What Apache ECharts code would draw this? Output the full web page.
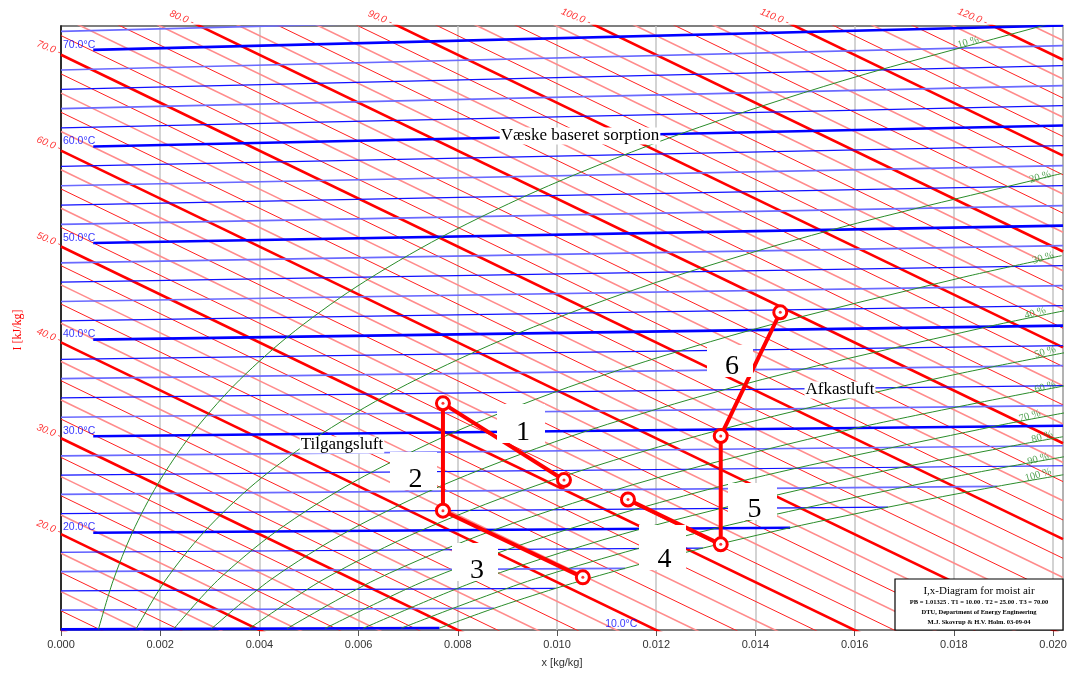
<!DOCTYPE html>
<html>
<head>
<meta charset="utf-8">
<title>I,x-Diagram for moist air</title>
<script src="https://cdn.jsdelivr.net/npm/echarts@6/dist/echarts.min.js"></script>
<style>
html, body { margin: 0; padding: 0; background: #fff; }
#chart { width: 1071px; height: 675px; }
</style>
</head>
<body>
<div id="chart"></div>
<script>
// Mollier chart: horizontal = x [kg/kg], vertical = I - r0*x (skewed enthalpy axis)
const R0 = 2501
const CPA = 1.006
const CPV = 1.86
const X_MAX = 0.0202
const V_MIN = 10
const V_MAX = 73

// isenthalps kJ/kg
const enthalpyLevels = [10, 12, 14, 16, 18, 20, 22, 24, 26, 28, 30, 32, 34, 36, 38, 40, 42, 44, 46, 48,
  50, 52, 54, 56, 58, 60, 62, 64, 66, 68, 70, 72, 74, 76, 78, 80, 82, 84, 86, 88, 90, 92, 94, 96, 98,
  100, 102, 104, 106, 108, 110, 112, 114, 116, 118, 120, 122]
const enthalpyLabels = [20, 30, 40, 50, 60, 70, 80, 90, 100, 110, 120]

// isotherms degC, and where the first ones meet the saturation curve
const tempLevels = [10, 12, 14, 16, 18, 20, 22, 24, 26, 28, 30, 32, 34, 36, 38, 40, 42, 44, 46, 48,
  50, 52, 54, 56, 58, 60, 62, 64, 66, 68, 70, 72]
const tempEndX = [0.00763, 0.00873, 0.00997, 0.01137, 0.01294, 0.0147, 0.01667, 0.01888]
const tempLabels = [20, 30, 40, 50, 60, 70]

// relative humidity curves, [t degC, x kg/kg]
const rhLevels = [10, 20, 30, 40, 50, 60, 70, 80, 90, 100]
const rh10 = [[10, 0.000755], [15, 0.001049], [20, 0.001439], [25, 0.001952], [30, 0.002618], [35, 0.003475], [40, 0.004567], [45, 0.005946], [50, 0.007676], [55, 0.009829], [60, 0.012491], [65, 0.015762], [70, 0.019763], [70.5, 0.020199]]
const rh20 = [[10, 0.001512], [15, 0.002101], [20, 0.002885], [25, 0.003916], [30, 0.005258], [35, 0.006989], [40, 0.009201], [45, 0.012008], [50, 0.015544], [55, 0.019974], [55.2, 0.020167]]
const rh30 = [[10, 0.00227], [15, 0.003157], [20, 0.004338], [25, 0.005893], [30, 0.007921], [35, 0.010542], [40, 0.013904], [45, 0.018187], [47, 0.020173]]
const rh40 = [[10, 0.003031], [15, 0.004217], [20, 0.005797], [25, 0.007882], [30, 0.010606], [35, 0.014136], [40, 0.018678], [41.5, 0.020237]]
const rh50 = [[10, 0.003793], [15, 0.00528], [20, 0.007264], [25, 0.009884], [30, 0.013315], [35, 0.017771], [37.3, 0.020239]]
const rh60 = [[10, 0.004557], [15, 0.006347], [20, 0.008737], [25, 0.011899], [30, 0.016046], [34, 0.020248]]
const rh70 = [[10, 0.005323], [15, 0.007417], [20, 0.010217], [25, 0.013926], [30, 0.018801], [31.3, 0.02025]]
const rh80 = [[10, 0.006091], [15, 0.008491], [20, 0.011704], [25, 0.015967], [28, 0.019145], [28.9, 0.0202]]
const rh90 = [[10, 0.00686], [15, 0.009569], [20, 0.013198], [25, 0.018021], [26.9, 0.020228]]
const rh100 = [[10, 0.007632], [12, 0.008732], [14, 0.009972], [16, 0.011369], [18, 0.012938], [20, 0.014699], [22, 0.016672], [24, 0.01888], [25.1, 0.020206]]
const rhCurves = [rh10, rh20, rh30, rh40, rh50, rh60, rh70, rh80, rh90, rh100]

// process states (x kg/kg, I kJ/kg)
const supplyX = [0.01014, 0.0077, 0.0077, 0.01052]
const supplyI = [51.0, 52.9, 41.7, 41.8]
const exhaustX = [0.01143, 0.0133, 0.0133, 0.0145]
const exhaustI = [52.2, 52.2, 63.5, 79.4]

const vFromI = (x, I) => I - R0 * x
const vFromT = (x, t) => t * (CPA + CPV * x)

const RED = '#ff0000'
const BLUE = '#0000ff'
const GREEN = '#2a8c2a'
const base = { type: 'line', silent: true, symbol: 'none', animation: false }
const series = []

enthalpyLevels.forEach(I => {
  const thick = I % 10 === 0
  const light = !thick && (I / 2) % 2 === 1
  series.push(Object.assign({}, base, {
    z: 2,
    lineStyle: { color: thick ? RED : light ? '#ff8c8c' : '#ff2020', width: thick ? 2.6 : light ? 1.6 : 1 },
    data: [[0, vFromI(0, I)], [X_MAX, vFromI(X_MAX, I)]]
  }))
})

tempLevels.forEach((t, i) => {
  const thick = t % 10 === 0
  const light = !thick && i % 2 === 1
  const x0 = thick && t > 10 ? 0.00065 : 0
  const x1 = i < tempEndX.length ? tempEndX[i] : X_MAX
  series.push(Object.assign({}, base, {
    z: 3,
    lineStyle: { color: thick ? BLUE : light ? '#6a6aff' : '#1010ff', width: thick ? 2.6 : light ? 1.7 : 1.2 },
    data: [[x0, vFromT(x0, t)], [x1, vFromT(x1, t)]]
  }))
})

rhCurves.forEach(c => {
  series.push(Object.assign({}, base, {
    z: 4, smooth: 0.3,
    lineStyle: { color: GREEN, width: 1 },
    data: c.map(p => [p[1], vFromT(p[1], p[0])])
  }))
})

// label helpers
const labelSeries = (data, label, z) => ({
  type: 'scatter', silent: true, animation: false, clip: false, z: z || 6,
  symbolSize: 0, data: data, label: Object.assign({ show: true, formatter: p => p.data.name }, label)
})

const iLeft = enthalpyLabels.filter(I => I <= V_MAX).map(I => ({ name: I.toFixed(1) + ' -', value: [0, I] }))
const iTop = enthalpyLabels.filter(I => I > V_MAX).map(I => ({ name: I.toFixed(1) + ' -', value: [(I - V_MAX) / R0, V_MAX] }))
const iFont = { color: RED, fontSize: 10, fontStyle: 'italic', fontFamily: 'Liberation Sans' }
series.push(labelSeries(iLeft, Object.assign({ position: 'left', distance: 1, rotate: -22, offset: [0, -2] }, iFont)))
series.push(labelSeries(iTop, Object.assign({ position: 'left', distance: 1, rotate: -22, offset: [-6, -1] }, iFont)))

const tLab = tempLabels.map(t => ({ name: t.toFixed(1) + '°C', value: [0, CPA * t + 0.6] }))
tLab.push({ name: '10.0°C', value: [0.01093, 10.6] })
series.push(labelSeries(tLab, { position: 'right', distance: 2, color: BLUE, fontSize: 10.5, fontFamily: 'Liberation Sans' }))

const rhSpots = [[0.01829, 71.3], [0.01974, 57.25], [0.0198, 48.8], [0.01964, 43.06], [0.01984, 39.0],
  [0.01984, 35.35], [0.01953, 32.32], [0.01978, 30.13], [0.0197, 27.83], [0.0197, 26.17]]
const rhLab = rhLevels.map((r, i) => ({ name: r + ' %', value: rhSpots[i] }))
series.push(labelSeries(rhLab, { position: 'inside', rotate: 16, color: GREEN, fontSize: 10.5, fontFamily: 'Liberation Serif' }))

// process lines
const procStyle = {
  type: 'line', silent: true, animation: false, z: 8,
  symbol: 'circle', symbolSize: 13,
  itemStyle: { color: '#fff', borderColor: RED, borderWidth: 3 },
  lineStyle: { color: RED, width: 4 }
}
const supply = supplyX.map((x, i) => [x, vFromI(x, supplyI[i])])
const exhaust = exhaustX.map((x, i) => [x, vFromI(x, exhaustI[i])])
series.push(Object.assign({}, procStyle, { data: supply }))
series.push(Object.assign({}, procStyle, { data: exhaust }))
series.push({
  type: 'scatter', silent: true, animation: false, z: 9, symbolSize: 3,
  itemStyle: { color: RED }, data: supply.concat(exhaust)
})

// annotations (pixels)
const digitBoxes = [
  ['1', 497, 404, 48, 39], ['2', 390, 452, 47, 38], ['3', 452, 543, 46, 38],
  ['4', 639, 525, 47, 45], ['5', 728, 483, 49, 37], ['6', 707, 345, 46, 32]
]
const graphic = []
digitBoxes.forEach(b => {
  graphic.push({ type: 'rect', z: 20, shape: { x: b[1], y: b[2], width: b[3], height: b[4] }, style: { fill: '#fff' } })
  graphic.push({
    type: 'text', z: 21, x: b[1] + b[3] / 2 + 2, y: b[2] + b[4] - 10,
    style: { text: b[0], font: '28px "Liberation Serif"', fill: '#000', align: 'center', verticalAlign: 'middle' }
  })
})
const notes = [['Tilgangsluft', 342, 445], ['Afkastluft', 840, 390], ['Væske baseret sorption', 580, 136]]
notes.forEach(n => {
  graphic.push({
    type: 'text', z: 20, x: n[1], y: n[2],
    style: {
      text: n[0], font: '17px "Liberation Serif"', fill: '#000', align: 'center', verticalAlign: 'middle',
      backgroundColor: '#fff', padding: [0, 1]
    }
  })
})
graphic.push({
  type: 'text', x: 18, y: 330, rotation: Math.PI / 2,
  style: { text: 'I [kJ/kg]', font: '12px "Liberation Serif"', fill: RED, align: 'center', verticalAlign: 'middle' }
})
// info box
graphic.push({ type: 'rect', z: 20, shape: { x: 895, y: 579, width: 168, height: 51 }, style: { fill: '#fff', stroke: '#000', lineWidth: 1.2 } })
const infoLines = [
  ['I,x-Diagram for moist air', '11px "Liberation Serif"', 591],
  ['PB = 1.01325 . T1 = 10.00 . T2 = 25.00 . T3 = 70.00', 'bold 6.5px "Liberation Serif"', 602],
  ['DTU, Department of Energy Engineering', 'bold 6.5px "Liberation Serif"', 612],
  ['M.J. Skovrup & H.V. Holm. 03-09-04', 'bold 6.5px "Liberation Serif"', 622]
]
infoLines.forEach(l => {
  graphic.push({ type: 'text', z: 21, x: 979, y: l[2], style: { text: l[0], font: l[1], fill: '#000', align: 'center', verticalAlign: 'middle' } })
})

const option = {
  backgroundColor: '#fff',
  animation: false,
  grid: { left: 61, right: 8, top: 26, bottom: 45, show: true, borderColor: '#555', borderWidth: 1.5, outerBoundsMode: 'none' },
  xAxis: {
    type: 'value', min: 0, max: X_MAX, interval: 0.002,
    name: 'x [kg/kg]', nameLocation: 'middle', nameGap: 27,
    nameTextStyle: { color: '#333', fontSize: 11, fontFamily: 'Liberation Sans' },
    axisLine: { show: false },
    axisTick: { show: true, length: 6, lineStyle: { color: '#555' } },
    axisLabel: { formatter: v => v.toFixed(3), color: '#333', fontSize: 11, fontFamily: 'Liberation Sans', margin: 9, showMaxLabel: false },
    splitLine: { show: true, lineStyle: { color: '#c4c4c4', width: 1.5 } }
  },
  yAxis: {
    type: 'value', min: V_MIN, max: V_MAX,
    axisLine: { show: true, onZero: false, lineStyle: { color: '#000', width: 1.5 } },
    axisTick: { show: false }, axisLabel: { show: false }, splitLine: { show: false }
  },
  series: series,
  graphic: graphic
}

const chart = echarts.init(document.getElementById('chart'), null, { renderer: 'canvas' })
chart.setOption(option)
</script>
</body>
</html>
